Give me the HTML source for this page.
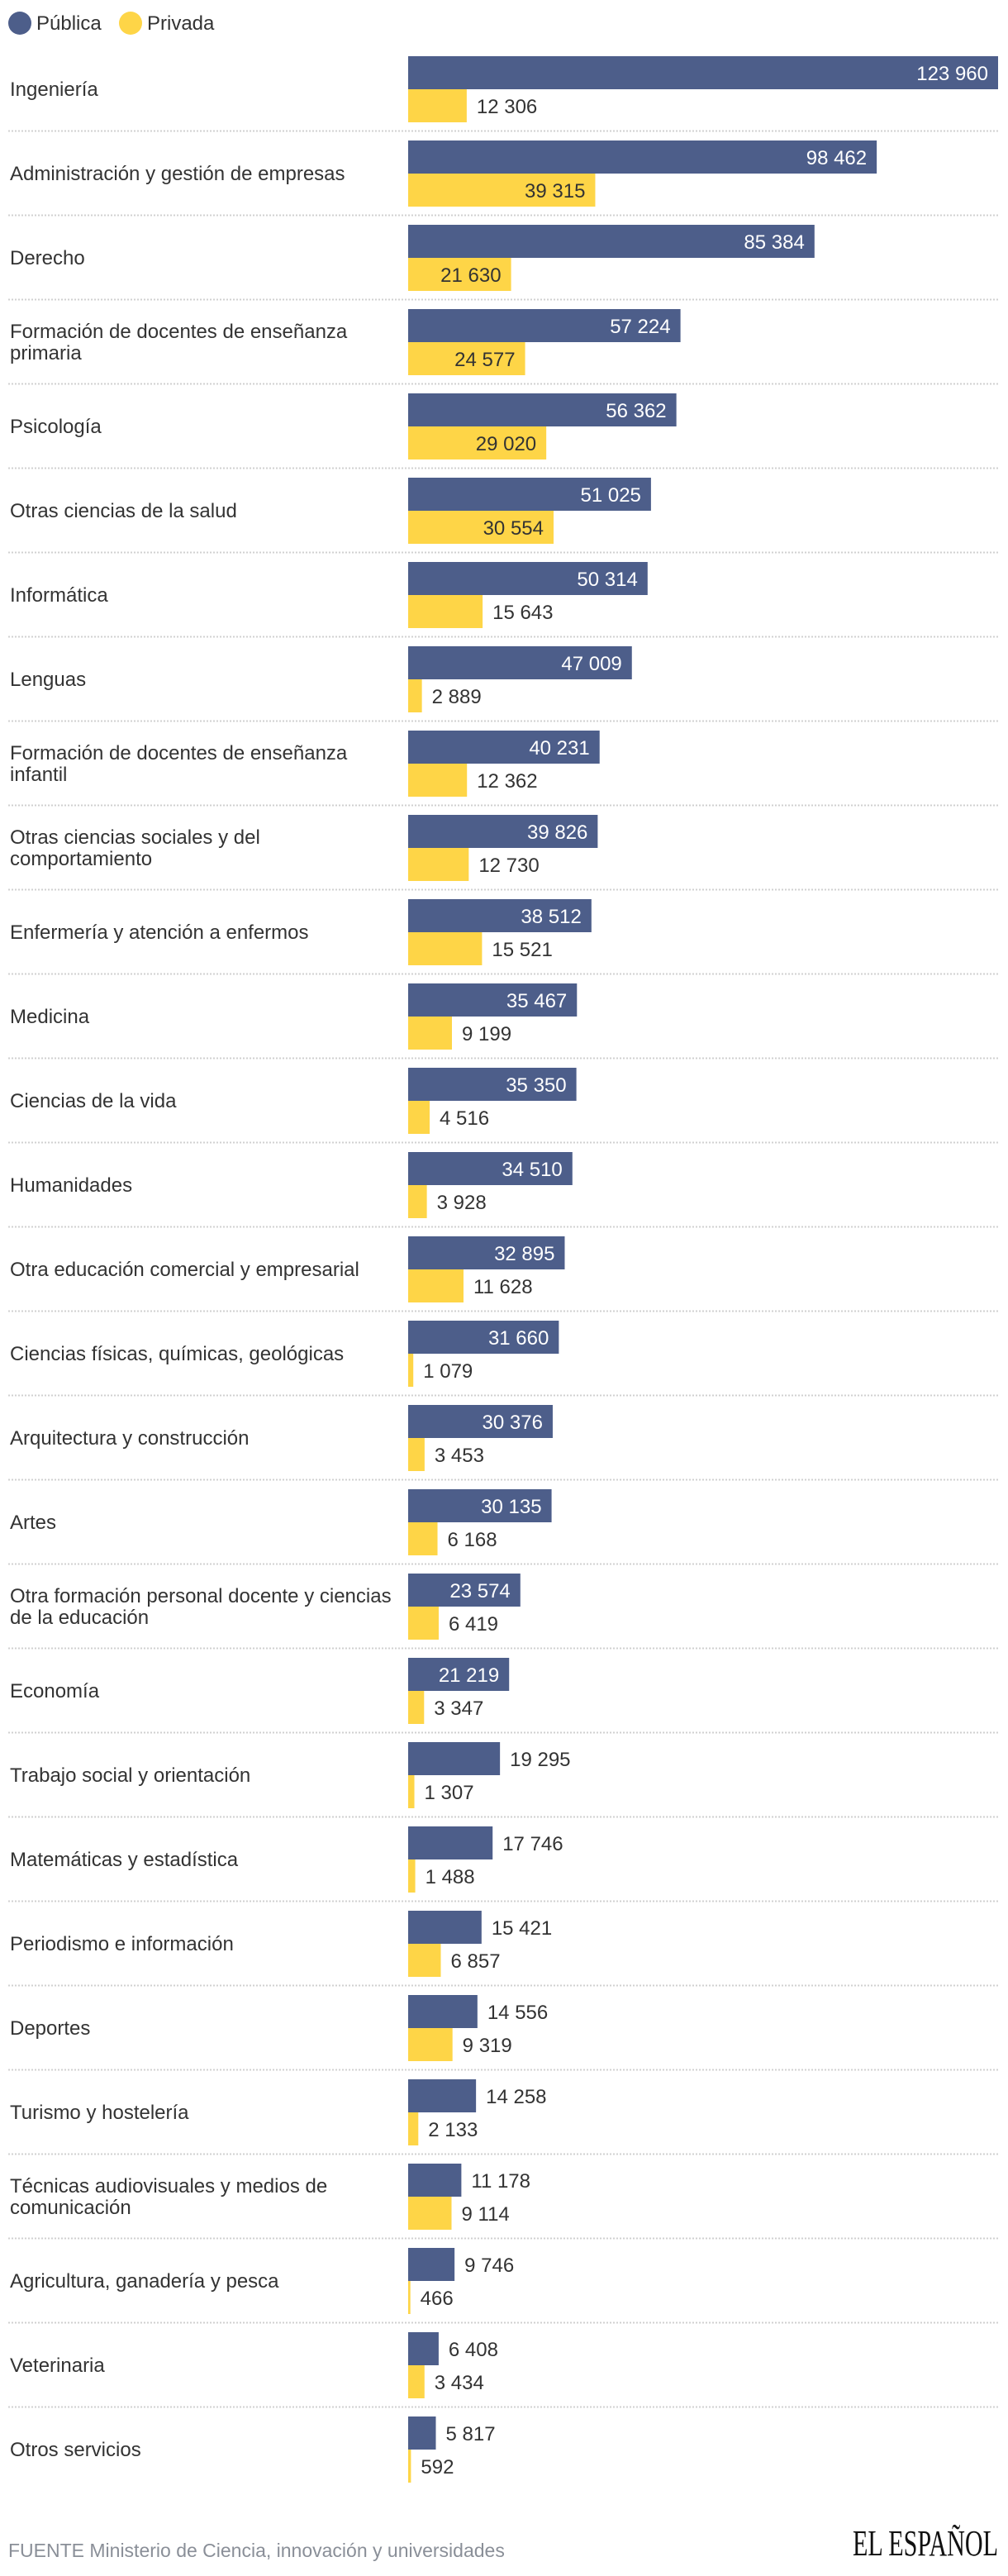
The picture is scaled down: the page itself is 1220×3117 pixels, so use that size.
<!DOCTYPE html>
<html><head><meta charset="utf-8">
<style>
body{margin:0;background:#fff;width:1220px;height:3112px;overflow:hidden;font-family:"Liberation Sans",sans-serif;}
svg text{font-family:"Liberation Sans",sans-serif;}
</style></head>
<body>
<svg id="chart" width="1220" height="3112" xmlns="http://www.w3.org/2000/svg">
  <g>
    <circle cx="24" cy="28" r="14" fill="#4d5e8a"/>
    <text x="44" y="36" font-size="24" fill="#333">Pública</text>
    <circle cx="158" cy="28" r="14" fill="#fed547"/>
    <text x="178" y="36" font-size="24" fill="#333">Privada</text>
  </g>
  <g id="rows"></g>
  <text x="10" y="3094" font-size="23" fill="#8a8f98">FUENTE Ministerio de Ciencia, innovación y universidades</text>
  <text x="1208" y="3092" text-anchor="end" font-size="44" fill="#111" textLength="176" lengthAdjust="spacingAndGlyphs" style="font-family:'Liberation Serif',serif">EL ESPAÑOL</text>
</svg>
<script>
const categories = [
 ["Ingeniería"],["Administración y gestión de empresas"],["Derecho"],
 ["Formación de docentes de enseñanza","primaria"],["Psicología"],["Otras ciencias de la salud"],
 ["Informática"],["Lenguas"],["Formación de docentes de enseñanza","infantil"],
 ["Otras ciencias sociales y del","comportamiento"],["Enfermería y atención a enfermos"],["Medicina"],
 ["Ciencias de la vida"],["Humanidades"],["Otra educación comercial y empresarial"],
 ["Ciencias físicas, químicas, geológicas"],["Arquitectura y construcción"],["Artes"],
 ["Otra formación personal docente y ciencias","de la educación"],["Economía"],["Trabajo social y orientación"],
 ["Matemáticas y estadística"],["Periodismo e información"],["Deportes"],["Turismo y hostelería"],
 ["Técnicas audiovisuales y medios de","comunicación"],["Agricultura, ganadería y pesca"],["Veterinaria"],["Otros servicios"]
];
const publica = [123960,98462,85384,57224,56362,51025,50314,47009,40231,39826,38512,35467,35350,34510,32895,31660,30376,30135,23574,21219,19295,17746,15421,14556,14258,11178,9746,6408,5817];
const privada = [12306,39315,21630,24577,29020,30554,15643,2889,12362,12730,15521,9199,4516,3928,11628,1079,3453,6168,6419,3347,1307,1488,6857,9319,2133,9114,466,3434,592];

const NS="http://www.w3.org/2000/svg";
const x0=494, xMax=123960, wMax=714;
const xScale=v=>v/xMax*wMax;
const rowY=i=>68+i*102;
const fmt=v=>String(v).replace(/\B(?=(\d{3})+(?!\d))/g," ");
const g=document.getElementById('rows');
function mk(tag,attrs){const e=document.createElementNS(NS,tag);for(const k in attrs)e.setAttribute(k,attrs[k]);return e;}
categories.forEach((lines,i)=>{
  const y=rowY(i);
  const row=mk('g',{});
  
  
  const lab=mk('text',{x:12,'font-size':24,fill:'#333'});
  
  
  const lh=26, cy=y+40;
  lines.forEach((ln,j)=>{
    const t=mk('tspan',{x:12,y:cy+8-(lines.length-1)*lh/2+j*lh});
    t.textContent=ln;lab.appendChild(t);
  });
  row.appendChild(lab);
  [[publica[i],'#4d5e8a',y,'#fff','bar-publica','value-publica'],[privada[i],'#fed547',y+40,'#333','bar-privada','value-privada']].forEach(([v,c,by,inCol,bn,vn])=>{
    const w=Math.max(xScale(v),2);
    const r=mk('rect',{x:x0,y:by,width:w,height:40,fill:c});
    
    
    row.appendChild(r);
    const inside=w>118;
    const t=mk('text',{x:inside?x0+w-12:x0+w+12,y:by+29,'font-size':24,fill:inside?inCol:'#333','text-anchor':inside?'end':'start'});
    
    
    t.textContent=fmt(v);
    row.appendChild(t);
  });
  if(i<categories.length-1){
    const l=mk('line',{x1:10,x2:1210,y1:y+90.5,y2:y+90.5,stroke:'#d0d0d0','stroke-width':2,'stroke-dasharray':'2 2'});
    
    
    row.appendChild(l);
  }
  g.appendChild(row);
});
</script>
</body></html>
